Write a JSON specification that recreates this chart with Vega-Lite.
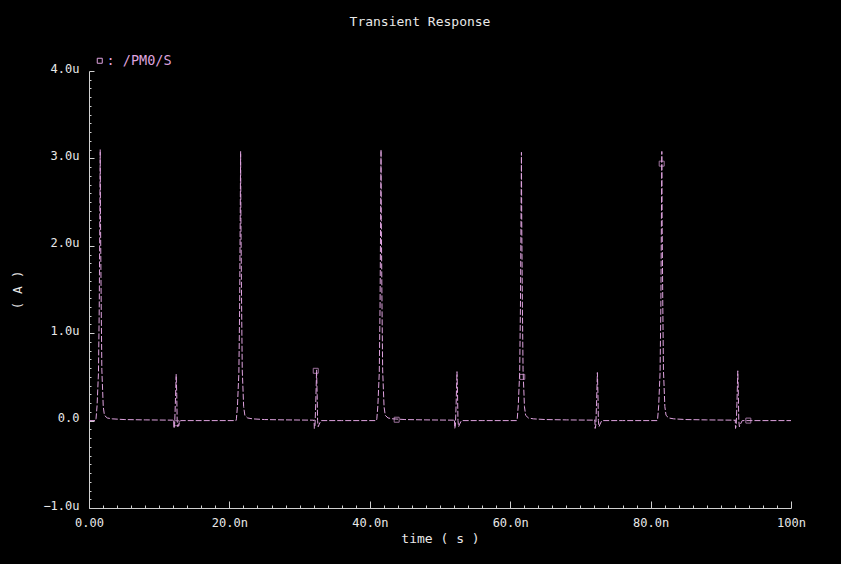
{
  "$schema": "https://vega.github.io/schema/vega-lite/v6.json",
  "width": 702,
  "height": 437,
  "autosize": {"type": "none"},
  "padding": {"left": 89, "top": 71, "right": 50, "bottom": 56},
  "background": "black",
  "title": {"text": "Transient Response", "color": "#e8e8e8", "font": "DejaVu Sans Mono", "fontSize": 13, "fontWeight": "normal", "anchor": "middle", "dx": -20, "offset": 19, "baseline": "middle"},
  "config": {
    "view": {"stroke": null},
    "axis": {"grid": false, "domainColor": "#d0d0d0", "tickColor": "#d0d0d0", "labelColor": "#e8e8e8", "labelFont": "DejaVu Sans Mono", "labelFontSize": 12, "titleFont": "DejaVu Sans Mono", "titleFontSize": 13, "titleColor": "#e8e8e8", "titleFontWeight": "normal"}
  },
  "datasets": {
    "trace": [
      {"t":0,"i":0},{"t":0.95,"i":0},{"t":1,"i":0.02},{"t":1.15,"i":0.17},{"t":1.35,"i":0.55},{"t":1.46,"i":1.3},{"t":1.54,"i":2.3},{"t":1.6,"i":3.1},{"t":1.64,"i":2.3},{"t":1.74,"i":1.3},{"t":1.83,"i":0.58},{"t":2.03,"i":0.16},{"t":2.2,"i":0.06},{"t":2.6,"i":0.03},{"t":3.3,"i":0.02},{"t":5,"i":0.012},{"t":8,"i":0.008},{"t":11.9,"i":0.005},{"t":12.02,"i":0},{"t":12.06,"i":0.01},{"t":12.1,"i":-0.09},{"t":12.2,"i":-0.05},{"t":12.3,"i":0.2},{"t":12.42,"i":0.53},{"t":12.5,"i":0.3},{"t":12.56,"i":0},{"t":12.65,"i":-0.07},{"t":12.8,"i":-0.04},{"t":13.05,"i":0},{"t":16,"i":0},
      {"t":20.95,"i":0},{"t":21,"i":0.02},{"t":21.15,"i":0.17},{"t":21.35,"i":0.55},{"t":21.46,"i":1.3},{"t":21.54,"i":2.3},{"t":21.6,"i":3.08},{"t":21.64,"i":2.3},{"t":21.74,"i":1.3},{"t":21.83,"i":0.58},{"t":22.03,"i":0.16},{"t":22.2,"i":0.06},{"t":22.6,"i":0.03},{"t":23.3,"i":0.02},{"t":25,"i":0.012},{"t":28,"i":0.008},{"t":31.9,"i":0.005},{"t":32.02,"i":0},{"t":32.06,"i":0.01},{"t":32.1,"i":-0.09},{"t":32.2,"i":-0.05},{"t":32.3,"i":0.2},{"t":32.42,"i":0.58},{"t":32.5,"i":0.3},{"t":32.56,"i":0},{"t":32.65,"i":-0.07},{"t":32.8,"i":-0.04},{"t":33.05,"i":0},{"t":36,"i":0},
      {"t":40.95,"i":0},{"t":41,"i":0.02},{"t":41.15,"i":0.17},{"t":41.35,"i":0.55},{"t":41.46,"i":1.3},{"t":41.54,"i":2.3},{"t":41.6,"i":3.1},{"t":41.64,"i":2.3},{"t":41.74,"i":1.3},{"t":41.83,"i":0.58},{"t":42.03,"i":0.16},{"t":42.2,"i":0.06},{"t":42.6,"i":0.03},{"t":43.3,"i":0.02},{"t":45,"i":0.012},{"t":48,"i":0.008},{"t":51.9,"i":0.005},{"t":52.02,"i":0},{"t":52.06,"i":0.01},{"t":52.1,"i":-0.09},{"t":52.2,"i":-0.05},{"t":52.3,"i":0.2},{"t":52.42,"i":0.56},{"t":52.5,"i":0.3},{"t":52.56,"i":0},{"t":52.65,"i":-0.07},{"t":52.8,"i":-0.04},{"t":53.05,"i":0},{"t":56,"i":0},
      {"t":60.95,"i":0},{"t":61,"i":0.02},{"t":61.15,"i":0.17},{"t":61.35,"i":0.55},{"t":61.46,"i":1.3},{"t":61.54,"i":2.3},{"t":61.6,"i":3.07},{"t":61.64,"i":2.3},{"t":61.74,"i":1.3},{"t":61.83,"i":0.58},{"t":62.03,"i":0.16},{"t":62.2,"i":0.06},{"t":62.6,"i":0.03},{"t":63.3,"i":0.02},{"t":65,"i":0.012},{"t":68,"i":0.008},{"t":71.9,"i":0.005},{"t":72.02,"i":0},{"t":72.06,"i":0.01},{"t":72.1,"i":-0.09},{"t":72.2,"i":-0.05},{"t":72.3,"i":0.2},{"t":72.42,"i":0.55},{"t":72.5,"i":0.3},{"t":72.56,"i":0},{"t":72.65,"i":-0.07},{"t":72.8,"i":-0.04},{"t":73.05,"i":0},{"t":76,"i":0},
      {"t":80.95,"i":0},{"t":81,"i":0.02},{"t":81.15,"i":0.17},{"t":81.35,"i":0.55},{"t":81.46,"i":1.3},{"t":81.54,"i":2.3},{"t":81.6,"i":3.08},{"t":81.64,"i":2.3},{"t":81.74,"i":1.3},{"t":81.83,"i":0.58},{"t":82.03,"i":0.16},{"t":82.2,"i":0.06},{"t":82.6,"i":0.03},{"t":83.3,"i":0.02},{"t":85,"i":0.012},{"t":88,"i":0.008},{"t":91.9,"i":0.005},{"t":92.02,"i":0},{"t":92.06,"i":0.01},{"t":92.1,"i":-0.09},{"t":92.2,"i":-0.05},{"t":92.3,"i":0.2},{"t":92.42,"i":0.57},{"t":92.5,"i":0.3},{"t":92.56,"i":0},{"t":92.65,"i":-0.07},{"t":92.8,"i":-0.04},{"t":93.05,"i":0},{"t":96,"i":0},
      {"t":100,"i":0}
    ],
    "markers": [
      {"t":12.49,"i":-0.03},{"t":32.3,"i":0.57},{"t":43.83,"i":0.01},{"t":61.72,"i":0.5},{"t":81.58,"i":2.94},{"t":93.92,"i":0.0}
    ]
  },
  "layer": [
    {
      "data": {"name": "trace"},
      "mark": {"type": "line", "strokeWidth": 1, "strokeDash": [6, 2], "clip": true},
      "encoding": {
        "x": {"field": "t", "type": "quantitative", "scale": {"domain": [0, 100], "nice": false, "zero": false},
          "axis": {"orient": "bottom", "values": [0, 20, 40, 60, 80, 100], "ticks": false, "labelPadding": 9, "labelFlush": false,
            "labelExpr": "datum.value == 0 ? '0.00' : datum.value == 100 ? '100n' : format(datum.value, '.1f') + 'n'",
            "title": "time ( s )", "titlePadding": 4}},
        "y": {"field": "i", "type": "quantitative", "scale": {"domain": [-1, 4], "nice": false, "zero": false},
          "axis": {"orient": "left", "values": [-1, 0, 1, 2, 3, 4], "ticks": false, "labelPadding": 10, "labelOffset": -3,
            "labelExpr": "datum.value == 0 ? '0.0' : format(datum.value, '.1f') + 'u'",
            "title": "( A )", "titlePadding": 18}},
        "color": {"datum": "/PM0/S", "type": "nominal", "scale": {"range": ["#dfa3df"]},
          "legend": {"orient": "none", "legendX": 4, "legendY": -17, "title": null, "symbolType": "square", "symbolSize": 25,
            "symbolStrokeColor": "#dfa3df", "symbolFillColor": "transparent", "symbolStrokeWidth": 1, "symbolDash": [],
            "labelExpr": "': ' + datum.label", "labelColor": "#dfa3df", "labelFont": "DejaVu Sans Mono", "labelFontSize": 13.5, "labelOffset": 0}}
      }
    },
    {
      "data": {"name": "markers"},
      "mark": {"type": "point", "shape": "square", "filled": false, "size": 25, "color": "#dfa3df", "strokeWidth": 1},
      "encoding": {
        "x": {"field": "t", "type": "quantitative",
          "axis": {"orient": "bottom", "domain": false, "labels": false, "title": null,
            "values": [0,2,4,6,8,10,12,14,16,18,20,22,24,26,28,30,32,34,36,38,40,42,44,46,48,50,52,54,56,58,60,62,64,66,68,70,72,74,76,78,80,82,84,86,88,90,92,94,96,98,100],
            "tickSize": {"condition": {"test": "datum.value % 20 === 0", "value": -7}, "value": -3}}},
        "y": {"field": "i", "type": "quantitative",
          "axis": {"orient": "left", "domain": false, "labels": false, "title": null,
            "values": [-1,-0.9,-0.8,-0.7,-0.6,-0.5,-0.4,-0.3,-0.2,-0.1,0,0.1,0.2,0.3,0.4,0.5,0.6,0.7,0.8,0.9,1,1.1,1.2,1.3,1.4,1.5,1.6,1.7,1.8,1.9,2,2.1,2.2,2.3,2.4,2.5,2.6,2.7,2.8,2.9,3,3.1,3.2,3.3,3.4,3.5,3.6,3.7,3.8,3.9,4],
            "tickSize": {"condition": {"test": "abs(datum.value - round(datum.value)) < 0.01", "value": -5}, "value": -2}}}
      }
    }
  ],
  "resolve": {"axis": {"x": "independent", "y": "independent"}}
}
